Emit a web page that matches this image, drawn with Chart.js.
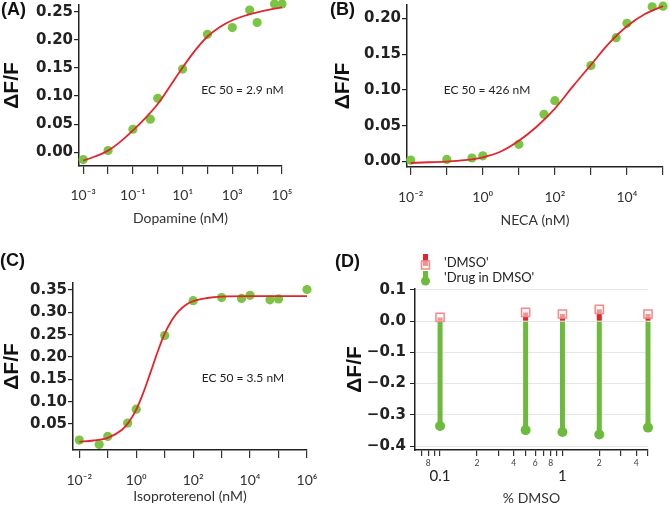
<!DOCTYPE html>
<html><head><meta charset="utf-8">
<script src="https://cdn.jsdelivr.net/npm/chart.js@4.4.1/dist/chart.umd.min.js"></script>
<style>
html,body{margin:0;padding:0;background:#fff;}
#wrap{position:relative;width:669px;height:510px;overflow:hidden;background:#fff;}
canvas{position:absolute;}
.lbl{position:absolute;font:bold 18px "Liberation Sans",Arial,sans-serif;line-height:18px;color:#111;}
</style></head><body>
<div id="wrap">
<canvas id="cA" width="334" height="250" style="left:0px;top:0px"></canvas>
<canvas id="cB" width="335" height="250" style="left:334px;top:0px"></canvas>
<canvas id="cC" width="334" height="260" style="left:0px;top:250px"></canvas>
<canvas id="cD" width="335" height="260" style="left:334px;top:250px"></canvas>
<div class="lbl" style="left:1px;top:0px">(A)</div>
<div class="lbl" style="left:330px;top:0px">(B)</div>
<div class="lbl" style="left:0px;top:251px">(C)</div>
<div class="lbl" style="left:335px;top:252px">(D)</div>
</div>
<script>
// ---------- Panel A: Dopamine ----------
const A_DOSE = [0.001, 0.01, 0.1, 0.5, 1, 10, 100, 1000, 5000, 10000, 50000, 100000];
const A_RESP = [-0.013, 0.003, 0.041, 0.059, 0.096, 0.148, 0.210, 0.222, 0.253, 0.231, 0.264, 0.264];
const A_FIT_X = [0.001, 0.00316, 0.01, 0.0316, 0.1, 0.316, 1, 3.16, 10, 31.6, 100, 316, 1000, 3160, 10000, 31600, 100000];
const A_FIT_Y = [-0.015, -0.007, 0.003, 0.019, 0.039, 0.061, 0.086, 0.118, 0.151, 0.181, 0.206, 0.223, 0.235, 0.243, 0.249, 0.254, 0.258];
const A_XTICKS = [1e-3, 1e-2, 1e-1, 1, 10, 100, 1000, 1e4, 1e5];
const A_XLABELS = ['10⁻³', '', '10⁻¹', '', '10¹', '', '10³', '', '10⁵'];
const A_YTICKS = [0, 0.05, 0.10, 0.15, 0.20, 0.25];

// ---------- Panel B: NECA ----------
const B_DOSE = [0.01, 0.1, 0.5, 1, 10, 50, 100, 1000, 5000, 10000, 50000, 100000];
const B_RESP = [0.002, 0.003, 0.005, 0.008, 0.024, 0.066, 0.085, 0.134, 0.173, 0.193, 0.216, 0.217];
const B_FIT_X = [0.01, 0.0316, 0.1, 0.316, 1, 3.16, 10, 31.6, 100, 316, 1000, 3160, 10000, 31600, 100000];
const B_FIT_Y = [-0.002, -0.001, 0.000, 0.002, 0.006, 0.014, 0.029, 0.049, 0.074, 0.105, 0.135, 0.165, 0.189, 0.206, 0.217];
const B_XTICKS = [1e-2, 1e-1, 1, 10, 100, 1000, 1e4, 1e5];
const B_XLABELS = ['10⁻²', '', '10⁰', '', '10²', '', '10⁴', ''];
const B_YTICKS = [0, 0.05, 0.10, 0.15, 0.20];

// ---------- Panel C: Isoproterenol ----------
const C_DOSE = [0.01, 0.05, 0.1, 0.5, 1, 10, 100, 1000, 5000, 10000, 50000, 100000, 1000000];
const C_RESP = [0.014, 0.004, 0.022, 0.052, 0.083, 0.248, 0.326, 0.333, 0.331, 0.338, 0.328, 0.330, 0.351];
const C_FIT_X = [0.01, 0.0316, 0.1, 0.316, 0.562, 1, 1.78, 3.16, 5.62, 10, 17.8, 31.6, 56.2, 100, 316, 1000, 10000, 100000, 1000000];
const C_FIT_Y = [0.010, 0.013, 0.019, 0.037, 0.055, 0.082, 0.120, 0.165, 0.211, 0.252, 0.282, 0.303, 0.317, 0.325, 0.332, 0.335, 0.336, 0.336, 0.336];
const C_XTICKS = [1e-2, 1e-1, 1, 10, 100, 1000, 1e4, 1e5, 1e6];
const C_XLABELS = ['10⁻²', '', '10⁰', '', '10²', '', '10⁴', '', '10⁶'];
const C_YTICKS = [0.05, 0.10, 0.15, 0.20, 0.25, 0.30, 0.35];

// ---------- Panel D: % DMSO ----------
const D_PCT = [0.1, 0.5, 1, 2, 5];
const D_DMSO = [0.012, 0.028, 0.023, 0.038, 0.023];
const D_DRUG = [-0.336, -0.349, -0.355, -0.363, -0.341];
const D_XTICKS = [0.07, 0.08, 0.09, 0.1, 0.2, 0.3, 0.4, 0.5, 0.6, 0.7, 0.8, 0.9, 1, 2, 3, 4, 5];
const D_XMINOR_LABELS = ['', '8', '', '', '2', '', '4', '', '6', '', '8', '', '', '2', '', '4', ''];
const D_XMAJOR = [0.1, 1];
const D_XMAJOR_LABELS = ['0.1', '1'];
const D_YTICKS = [-0.4, -0.3, -0.2, -0.1, 0, 0.1];

const RED = '#e2252b';
const GREEN = '#7cc444';
const GREEN_D = '#6cbb3c';
const AXIS = '#222';
const XFONT = "'Liberation Sans Narrow', Lato, sans-serif";

function zeroPad(s) { s.paddingTop = 0; s.paddingBottom = 0; s.paddingLeft = 0; s.paddingRight = 0; }

const notePlugin = {
  id: 'note',
  afterDatasetsDraw(chart, args, opts) {
    if (!opts || !opts.text) return;
    const ctx = chart.ctx;
    ctx.save();
    ctx.font = '12px Lato';
    ctx.fillStyle = '#222';
    ctx.textAlign = 'left';
    ctx.textBaseline = 'middle';
    ctx.fillText(opts.text, chart.scales.x.getPixelForValue(opts.x), chart.scales.y.getPixelForValue(opts.y));
    ctx.restore();
  }
};

function doseChart(id, o) {
  return new Chart(document.getElementById(id), {
    type: 'scatter',
    data: { datasets: [
      { type: 'line', data: o.fitX.map((x, i) => ({x, y: o.fitY[i]})), borderColor: RED, borderWidth: 1.8,
        pointRadius: 0, cubicInterpolationMode: 'monotone', fill: false, clip: false, order: 0 },
      { type: 'scatter', data: o.dose.map((x, i) => ({x, y: o.resp[i]})), pointRadius: 4.6,
        backgroundColor: GREEN, borderWidth: 0, clip: false, order: 1 }
    ]},
    options: {
      responsive: false, animation: false, events: [],
      layout: { autoPadding: false, padding: o.pad },
      plugins: { legend: { display: false }, tooltip: { enabled: false }, note: o.note },
      scales: {
        x: {
          type: 'logarithmic', min: o.xmin, max: o.xmax, offset: false,
          afterBuildTicks: s => { s.ticks = o.xticks.map(v => ({value: v})); },
          afterFit: s => { s.height = o.xh; zeroPad(s); },
          ticks: { autoSkip: false, maxRotation: 0, minRotation: 0, padding: o.xtp, color: '#333',
                   font: { family: XFONT, size: 14 }, callback: (v, i) => o.xlabels[i] },
          grid: { drawOnChartArea: false, drawTicks: true, tickLength: 8, color: '#333', lineWidth: 1.2, offset: false },
          border: { display: true, color: AXIS, width: 1.5 },
          title: { display: true, text: o.xtitle, color: '#333', font: { family: 'Lato', size: 14 },
                   padding: { top: 0, bottom: o.xtpb } }
        },
        y: {
          type: 'linear', min: o.ymin, max: o.ymax,
          afterBuildTicks: s => { s.ticks = o.yticks.map(v => ({value: v})); },
          afterFit: s => { s.width = o.yw; zeroPad(s); },
          ticks: { padding: 1, color: AXIS, font: { family: 'DejaVu Sans', size: 15, weight: 'bold' },
                   callback: v => v.toFixed(2) },
          grid: { drawOnChartArea: false, tickLength: 5, color: AXIS, lineWidth: 1.2 },
          border: { display: true, color: AXIS, width: 1.5 },
          title: { display: true, text: 'ΔF/F', color: '#111',
                   font: { family: 'Liberation Sans', size: 21, weight: 'bold', lineHeight: o.ylh }, padding: 0 }
        }
      }
    },
    plugins: [notePlugin]
  });
}

doseChart('cA', {
  dose: A_DOSE, resp: A_RESP, fitX: A_FIT_X, fitY: A_FIT_Y,
  xmin: 0.000676, xmax: 1e5, ymin: -0.0244, ymax: 0.2621,
  xticks: A_XTICKS, xlabels: A_XLABELS, yticks: A_YTICKS,
  xtitle: 'Dopamine (nM)', pad: { left: 0, top: 5, right: 52, bottom: 0 },
  yw: 79, xh: 84, xtp: 13, xtpb: 23, ylh: 1.19,
  note: { text: 'EC 50 = 2.9 nM', x: 56, y: 0.110 }
});

doseChart('cB', {
  dose: B_DOSE, resp: B_RESP, fitX: B_FIT_X, fitY: B_FIT_Y,
  xmin: 0.00789, xmax: 1e5, ymin: -0.0076, ymax: 0.2186,
  xticks: B_XTICKS, xlabels: B_XLABELS, yticks: B_YTICKS,
  xtitle: 'NECA (nM)', pad: { left: 0, top: 5, right: 6, bottom: 0 },
  yw: 73, xh: 83, xtp: 14, xtpb: 21.6, ylh: 0.886,
  note: { text: 'EC 50 = 426 nM', x: 0.0826, y: 0.100 }
});

doseChart('cC', {
  dose: C_DOSE, resp: C_RESP, fitX: C_FIT_X, fitY: C_FIT_Y,
  xmin: 0.00601, xmax: 1e6, ymin: -0.0083, ymax: 0.3656,
  xticks: C_XTICKS, xlabels: C_XLABELS, yticks: C_YTICKS,
  xtitle: 'Isoproterenol (nM)', pad: { left: 0, top: 33, right: 27, bottom: 0 },
  yw: 73, xh: 60, xtp: 14, xtpb: 4.9, ylh: 1.19,
  note: { text: 'EC 50 = 3.5 nM', x: 200, y: 0.1536 }
});

// legend for panel D
const legendD = {
  id: 'legendD',
  afterDraw(chart) {
    const ctx = chart.ctx;
    ctx.save();
    // 'DMSO' icon: red stick + hollow square
    ctx.fillStyle = RED;
    ctx.fillRect(89, 4, 5, 12);
    ctx.fillStyle = 'rgba(255,240,240,0.55)';
    ctx.fillRect(87.5, 11, 8, 8);
    ctx.strokeStyle = '#f08c8c';
    ctx.lineWidth = 1.5;
    ctx.strokeRect(87.5, 11, 8, 8);
    // 'Drug in DMSO' icon: green stick + circle
    ctx.fillStyle = GREEN_D;
    ctx.fillRect(89, 21, 5, 10);
    ctx.beginPath();
    ctx.arc(91.5, 31, 4.5, 0, Math.PI * 2);
    ctx.fill();
    ctx.fillStyle = '#222';
    ctx.font = "13px 'Liberation Sans Narrow', Lato, sans-serif";
    ctx.textAlign = 'left';
    ctx.textBaseline = 'middle';
    ctx.fillText("'DMSO'", 110, 12.5);
    ctx.fillText("'Drug in DMSO'", 110, 28);
    ctx.restore();
  }
};

new Chart(document.getElementById('cD'), {
  type: 'scatter',
  data: { datasets: [
    { type: 'scatter', label: "'DMSO'", data: D_PCT.map((x, i) => ({x, y: D_DMSO[i]})), pointStyle: 'rect',
      pointRadius: 5.8, backgroundColor: 'rgba(255,240,240,0.55)', borderColor: '#f08c8c', borderWidth: 1.5, clip: false, order: 0 },
    { type: 'scatter', label: "'Drug in DMSO'", data: D_PCT.map((x, i) => ({x, y: D_DRUG[i]})),
      pointRadius: 5, backgroundColor: GREEN_D, borderWidth: 0, clip: false, order: 1 },
    { type: 'bar', data: D_PCT.map((x, i) => ({x, y: [0, D_DMSO[i]]})), backgroundColor: RED,
      barThickness: 5, grouped: false, borderWidth: 0, inflateAmount: 0, clip: false, order: 2 },
    { type: 'bar', data: D_PCT.map((x, i) => ({x, y: [0, D_DRUG[i]]})), backgroundColor: GREEN_D,
      barThickness: 5, grouped: false, borderWidth: 0, inflateAmount: 0, clip: false, order: 3 }
  ]},
  options: {
    responsive: false, animation: false, events: [],
    layout: { autoPadding: false, padding: { left: 0, top: 39, right: 21, bottom: 0 } },
    plugins: { legend: { display: false }, tooltip: { enabled: false } },
    scales: {
      x: {
        type: 'logarithmic', min: 0.0624, max: 5, offset: false, weight: 0,
        afterBuildTicks: s => { s.ticks = D_XTICKS.map(v => ({value: v})); },
        afterFit: s => { s.height = 16; zeroPad(s); },
        ticks: { autoSkip: false, maxRotation: 0, minRotation: 0, padding: 2, color: '#444',
                 font: { family: 'Lato', size: 8.5 }, callback: (v, i) => D_XMINOR_LABELS[i] },
        grid: { drawOnChartArea: false, drawTicks: true, tickLength: 6, color: '#333', lineWidth: 1.2, offset: false },
        border: { display: true, color: AXIS, width: 1.5 }
      },
      x2: {
        type: 'logarithmic', position: 'bottom', min: 0.0624, max: 5, offset: false, weight: 1,
        afterBuildTicks: s => { s.ticks = D_XMAJOR.map(v => ({value: v})); },
        afterFit: s => { s.height = 44; zeroPad(s); },
        ticks: { autoSkip: false, maxRotation: 0, minRotation: 0, padding: 1, color: '#222',
                 font: { family: 'Lato', size: 15 }, callback: (v, i) => D_XMAJOR_LABELS[i] },
        grid: { display: false, drawTicks: false, drawOnChartArea: false, offset: false },
        border: { display: false },
        title: { display: true, text: '% DMSO', color: '#333', font: { family: 'Lato', size: 14 },
                 padding: { top: 0, bottom: 3.3 } }
      },
      y: {
        type: 'linear', min: -0.4128, max: 0.1032,
        afterBuildTicks: s => { s.ticks = D_YTICKS.map(v => ({value: v})); },
        afterFit: s => { s.width = 81; zeroPad(s); },
        ticks: { padding: 4, color: AXIS, font: { family: 'DejaVu Sans', size: 15, weight: 'bold' },
                 callback: v => (v < -1e-9 ? '−' + Math.abs(v).toFixed(1) : Math.abs(v).toFixed(1)) },
        grid: { drawOnChartArea: true, tickLength: 5, color: '#e6e6e6', tickColor: AXIS, lineWidth: 1 },
        border: { display: true, color: AXIS, width: 1.5 },
        title: { display: true, text: 'ΔF/F', color: '#111',
                 font: { family: 'Liberation Sans', size: 21, weight: 'bold', lineHeight: 2.0 }, padding: 0 }
      }
    }
  },
  plugins: [legendD]
});
</script>
</body></html>
